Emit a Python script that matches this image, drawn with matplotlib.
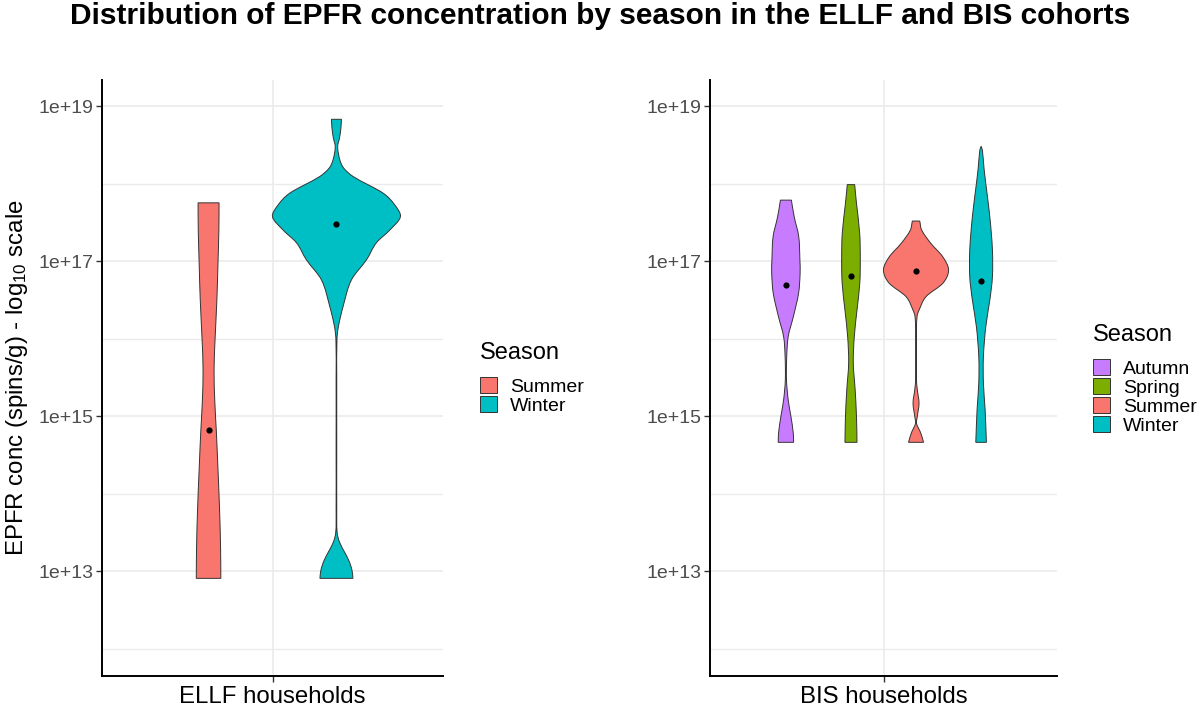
import numpy as np
import matplotlib
matplotlib.use("Agg")
import matplotlib.pyplot as plt
from matplotlib.patches import Patch, PathPatch
from matplotlib.path import Path

plt.rcParams['font.family'] = ['Liberation Sans', 'DejaVu Sans']
plt.rcParams['mathtext.default'] = 'regular'

# ---------------- data (log10 of EPFR concentration, relative violin density) -------------
title = "Distribution of EPFR concentration by season in the ELLF and BIS cohorts"
ylabel = r"EPFR conc (spins/g) - log$_{10}$ scale"
ytick_vals = [1e13, 1e15, 1e17, 1e19]
ytick_labels = ["1e+13", "1e+15", "1e+17", "1e+19"]
yminor_vals = [1e12, 1e14, 1e16, 1e18]

ellf_label = "ELLF households"
ellf_seasons = ["Summer", "Winter"]
ellf_summer_logy = [12.91, 13.3, 13.8, 14.3, 14.8, 15.2, 15.6, 16.0, 16.5, 17.0, 17.4, 17.755]
ellf_summer_dens = [0.192, 0.188, 0.172, 0.148, 0.122, 0.097, 0.086, 0.102, 0.13, 0.148, 0.161, 0.164]
ellf_winter_logy = [12.91, 13.02, 13.15, 13.37, 13.5, 13.8, 14.5, 15.5, 15.99, 16.16, 16.42, 16.76,
                    17.02, 17.24, 17.40, 17.575, 17.73, 17.88, 18.09, 18.2, 18.305, 18.476, 18.6, 18.72, 18.833]
ellf_winter_dens = [0.258, 0.242, 0.188, 0.052, 0.011, 0.005, 0.005, 0.005, 0.008, 0.031, 0.105, 0.234,
                    0.47, 0.625, 0.83, 1.0, 0.91, 0.73, 0.27, 0.117, 0.055, 0.019, 0.05, 0.07, 0.078]
ellf_means_log = [14.83, 17.48]

bis_label = "BIS households"
bis_seasons = ["Autumn", "Spring", "Summer", "Winter"]
bis_autumn_logy = [14.665, 14.79, 15.0, 15.21, 15.47, 15.77, 16.03, 16.29, 16.59, 16.85, 17.02, 17.32, 17.575, 17.79]
bis_autumn_dens = [0.237, 0.225, 0.154, 0.071, 0.018, 0.025, 0.071, 0.231, 0.39, 0.437, 0.43, 0.394, 0.255, 0.169]
bis_spring_logy = [14.665, 15.0, 15.34, 15.69, 16.03, 16.37, 16.72, 17.02, 17.36, 17.75, 17.99]
bis_spring_dens = [0.185, 0.169, 0.129, 0.071, 0.102, 0.185, 0.271, 0.286, 0.268, 0.169, 0.114]
bis_summer_logy = [14.665, 14.785, 14.91, 15.0, 15.17, 15.34, 15.5, 16.0, 16.29, 16.37, 16.545, 16.72,
                   16.89, 17.06, 17.23, 17.40, 17.52]
bis_summer_dens = [0.231, 0.145, 0.015, 0.04, 0.092, 0.04, 0.009, 0.009, 0.031, 0.092, 0.308, 0.83,
                   1.0, 0.82, 0.46, 0.178, 0.114]
bis_winter_logy = [14.665, 15.09, 15.43, 15.77, 16.16, 16.50, 16.80, 17.15, 17.575, 18.0, 18.2, 18.43, 18.485]
bis_winter_dens = [0.163, 0.123, 0.071, 0.071, 0.145, 0.268, 0.348, 0.348, 0.268, 0.145, 0.09, 0.04, 0.0]
bis_means_log = [16.69, 16.81, 16.88, 16.75]

season_colors = {"Autumn": "#C77CFF", "Spring": "#7CAE00", "Summer": "#F8766D", "Winter": "#00BFC4"}

# ---------------- figure ----------------
fig = plt.figure(figsize=(12, 7.1), dpi=100)
W, H = 1200, 710
def axrect(x0, x1, y0, y1):
    return [x0 / W, 1 - y1 / H, (x1 - x0) / W, (y1 - y0) / H]

axL = fig.add_axes(axrect(102, 443, 80, 676))
axR = fig.add_axes(axrect(710, 1057, 80, 676))

GRID = "#EBEBEB"
EDGE = "#333333"

def style(ax, cat_label):
    ax.set_yscale("log")
    ax.set_ylim(10 ** 11.65, 10 ** 19.34)
    ax.set_xlim(0.4, 1.6)
    ax.set_yticks(ytick_vals)
    ax.set_yticklabels(ytick_labels)
    ax.set_yticks(yminor_vals, minor=True)
    ax.yaxis.set_minor_formatter(matplotlib.ticker.NullFormatter())
    ax.set_xticks([1])
    ax.set_xticklabels([cat_label])
    for v in ytick_vals:
        ax.axhline(v, color=GRID, lw=1.2, zorder=0)
    for v in yminor_vals:
        ax.axhline(v, color=GRID, lw=1.0, zorder=0)
    ax.axvline(1, color=GRID, lw=1.2, zorder=0)
    for s in ["top", "right"]:
        ax.spines[s].set_visible(False)
    for s in ["left", "bottom"]:
        ax.spines[s].set_linewidth(1.4)
        ax.spines[s].set_color("black")
    ax.tick_params(axis="y", which="major", length=4, width=1.0, color=EDGE,
                   labelsize=14, labelcolor="#4D4D4D", pad=2)
    ax.tick_params(axis="y", which="minor", length=0)
    ax.tick_params(axis="x", length=4, width=1.0, color=EDGE, labelsize=17.3,
                   labelcolor="black", pad=3)

def side_bezier(ly, d):
    """Smooth (Hermite in log-y) outline of one violin side: returns control points and knots."""
    n = len(ly)
    m = np.zeros(n)
    for i in range(n):
        a, b = max(i - 1, 0), min(i + 1, n - 1)
        m[i] = (d[b] - d[a]) / (ly[b] - ly[a])
    segs = []
    for i in range(n - 1):
        dy = ly[i + 1] - ly[i]
        c1 = (max(d[i] + m[i] * dy / 3, 0.0), ly[i] + dy / 3)
        c2 = (max(d[i + 1] - m[i + 1] * dy / 3, 0.0), ly[i + 1] - dy / 3)
        segs.append((c1, c2, (d[i + 1], ly[i + 1])))
    return segs

def violin_path(c, hw, ly, d):
    ly = list(ly); d = list(d)
    verts, codes = [], []
    verts.append((c + d[0] * hw, 10 ** ly[0])); codes.append(Path.MOVETO)
    for c1, c2, p in side_bezier(ly, d):
        for q in (c1, c2, p):
            verts.append((c + q[0] * hw, 10 ** q[1])); codes.append(Path.CURVE4)
    verts.append((c - d[-1] * hw, 10 ** ly[-1])); codes.append(Path.LINETO)
    for c1, c2, p in side_bezier(ly[::-1], d[::-1]):
        for q in (c1, c2, p):
            verts.append((c - q[0] * hw, 10 ** q[1])); codes.append(Path.CURVE4)
    verts.append((0, 0)); codes.append(Path.CLOSEPOLY)
    return Path(verts, codes)

def draw_violins(ax, seasons, logys, denss, means):
    n = len(seasons)
    gw = 0.9 / n
    for i, (s, ly, d, m) in enumerate(zip(seasons, logys, denss, means)):
        c = 1 + (i - (n - 1) / 2) * gw
        hw = gw / 2
        path = violin_path(c, hw, ly, d)
        ax.add_patch(PathPatch(path, facecolor=season_colors[s], edgecolor=EDGE,
                               linewidth=0.7, zorder=2))
        ax.scatter([c], [10 ** m], s=20, color="black", zorder=3, linewidths=0)

style(axL, ellf_label)
style(axR, bis_label)
draw_violins(axL, ellf_seasons, [ellf_summer_logy, ellf_winter_logy],
             [ellf_summer_dens, ellf_winter_dens], ellf_means_log)
draw_violins(axR, bis_seasons, [bis_autumn_logy, bis_spring_logy, bis_summer_logy, bis_winter_logy],
             [bis_autumn_dens, bis_spring_dens, bis_summer_dens, bis_winter_dens], bis_means_log)

axL.set_ylabel(ylabel, fontsize=17.3, labelpad=6)

def add_legend(seasons, x, y):
    handles = [Patch(facecolor=season_colors[s], edgecolor=EDGE, linewidth=0.7) for s in seasons]
    leg = fig.legend(handles, seasons, loc="upper left", bbox_to_anchor=(x / W, 1 - y / H),
                     frameon=False, fontsize=14, title="Season", title_fontsize=17,
                     handlelength=0.85, handleheight=0.95, labelspacing=0.0,
                     handletextpad=0.7, borderpad=0.0, borderaxespad=0.0)
    leg._legend_box.align = "left"
    leg._legend_box.sep = 9
    return leg

add_legend(ellf_seasons, 480, 342)
add_legend(bis_seasons, 1093, 324)

fig.text(0.5, 1 - 24 / H, title, ha="center", va="baseline", fontsize=21.5, fontweight="bold")

fig.savefig("out.png", dpi=100, facecolor="white")
